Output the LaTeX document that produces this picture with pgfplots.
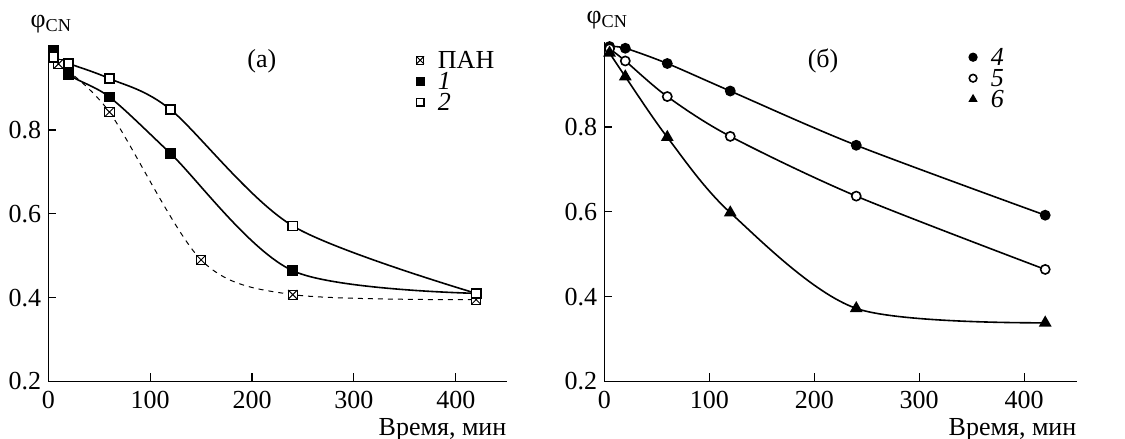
\documentclass[border=0pt]{standalone}
\usepackage{fontspec}
\setmainfont{Liberation Serif}
\usepackage{pgfplots}
\pgfplotsset{compat=1.18}
\usetikzlibrary{plotmarks}
\pgfdeclareplotmark{sqx}{%
  \pgfpathrectangle{\pgfpoint{-\pgfplotmarksize}{-\pgfplotmarksize}}{\pgfpoint{2\pgfplotmarksize}{2\pgfplotmarksize}}%
  \pgfusepathqfillstroke
  \pgfpathmoveto{\pgfpoint{-\pgfplotmarksize}{-\pgfplotmarksize}}%
  \pgfpathlineto{\pgfpoint{\pgfplotmarksize}{\pgfplotmarksize}}%
  \pgfpathmoveto{\pgfpoint{-\pgfplotmarksize}{\pgfplotmarksize}}%
  \pgfpathlineto{\pgfpoint{\pgfplotmarksize}{-\pgfplotmarksize}}%
  \pgfusepathqstroke}
\newcommand{\fs}{\fontsize{13}{14.5}\selectfont}
\pgfplotsset{
  myaxis/.style={
    scale only axis,
    axis lines=left,
    axis line style={-, line width=0.6pt},
    xmin=0, xmax=450, ymin=0.2, ymax=1.0,
    xtick={0,100,200,300,400},
    ytick={0.2,0.4,0.6,0.8},
    tick align=inside,
    major tick length=4pt,
    tick style={line width=0.6pt, black},
    tick label style={font=\fs},
    /pgf/number format/assume math mode=true,
    yticklabel style={/pgf/number format/fixed, /pgf/number format/precision=1, /pgf/number format/fixed zerofill},
    xticklabel style={yshift=-1.5pt},
    xlabel={Время, мин},
    xlabel style={at={(rel axis cs:1,0)}, anchor=north east, inner sep=0pt, yshift=-18.3pt, font=\fs},
    ylabel={φ\textsubscript{CN}},
    ylabel style={at={(rel axis cs:0,1)}, rotate=-90, anchor=south, inner sep=0pt, yshift=6.5pt, xshift=1.5pt, font=\fs},
    clip=false,
    legend cell align=left,
    legend style={draw=none, fill=none, anchor=north west, font=\fs, row sep=0pt,
      nodes={inner sep=1pt, text height=8.5pt, text depth=0pt},
      /tikz/every odd column/.append style={column sep=6pt}},
    legend image code/.code={\draw[#1,only marks,mark size=1.9pt] plot coordinates {(0pt,0pt)};},
  },
  solidc/.style={black, line width=0.8pt, smooth, mark size=2.3pt, mark options={line width=0.5pt}},
}
\begin{document}
\begin{tikzpicture}
\useasboundingbox (-24.15pt,-28.85pt) rectangle (538.35pt,190.65pt);
\begin{axis}[myaxis, width=229.2pt, height=167.5pt, at={(0pt,0pt)}, anchor=south west,
  legend style={at={(rel axis cs:0.789,1.003)}}]
\addplot[black, line width=0.5pt, dash pattern=on 2.5pt off 2.5pt, smooth, mark=sqx, mark size=2.3pt, mark options={solid, fill=white, line width=0.5pt}]
  coordinates {(10,0.958) (60,0.843) (150,0.49) (240,0.407) (420,0.395)};
\addlegendentry{ПАН}
\addplot[solidc, mark=square*, mark options={fill=black}]
  coordinates {(5,0.99) (20,0.933) (60,0.879) (120,0.744) (240,0.464) (420,0.41)};
\addlegendentry{\textit{1}}
\addplot[solidc, mark=square*, mark options={fill=white}]
  coordinates {(5,0.974) (20,0.959) (60,0.923) (120,0.849) (240,0.571) (420,0.41)};
\addlegendentry{\textit{2}}
\node[font=\fs] at (rel axis cs:0.466,0.954) {(a)};
\end{axis}
\begin{axis}[myaxis, width=236.2pt, height=169.5pt, at={(278pt,0pt)}, anchor=south west,
  legend style={at={(rel axis cs:0.759,1.0)}}]
\addplot[solidc, mark=*, mark options={fill=black}]
  coordinates {(5,0.99) (20,0.986) (60,0.95) (120,0.885) (240,0.757) (420,0.592)};
\addlegendentry{\textit{4}}
\addplot[solidc, mark=*, mark options={fill=white}]
  coordinates {(5,0.985) (20,0.956) (60,0.872) (120,0.778) (240,0.637) (420,0.464)};
\addlegendentry{\textit{5}}
\addplot[solidc, mark=triangle*, mark size=2.9pt, mark options={fill=black}]
  coordinates {(5,0.975) (20,0.919) (60,0.776) (120,0.598) (240,0.372) (420,0.338)};
\addlegendentry{\textit{6}}
\node[font=\fs] at (rel axis cs:0.463,0.945) {(б)};
\end{axis}
\end{tikzpicture}
\end{document}
